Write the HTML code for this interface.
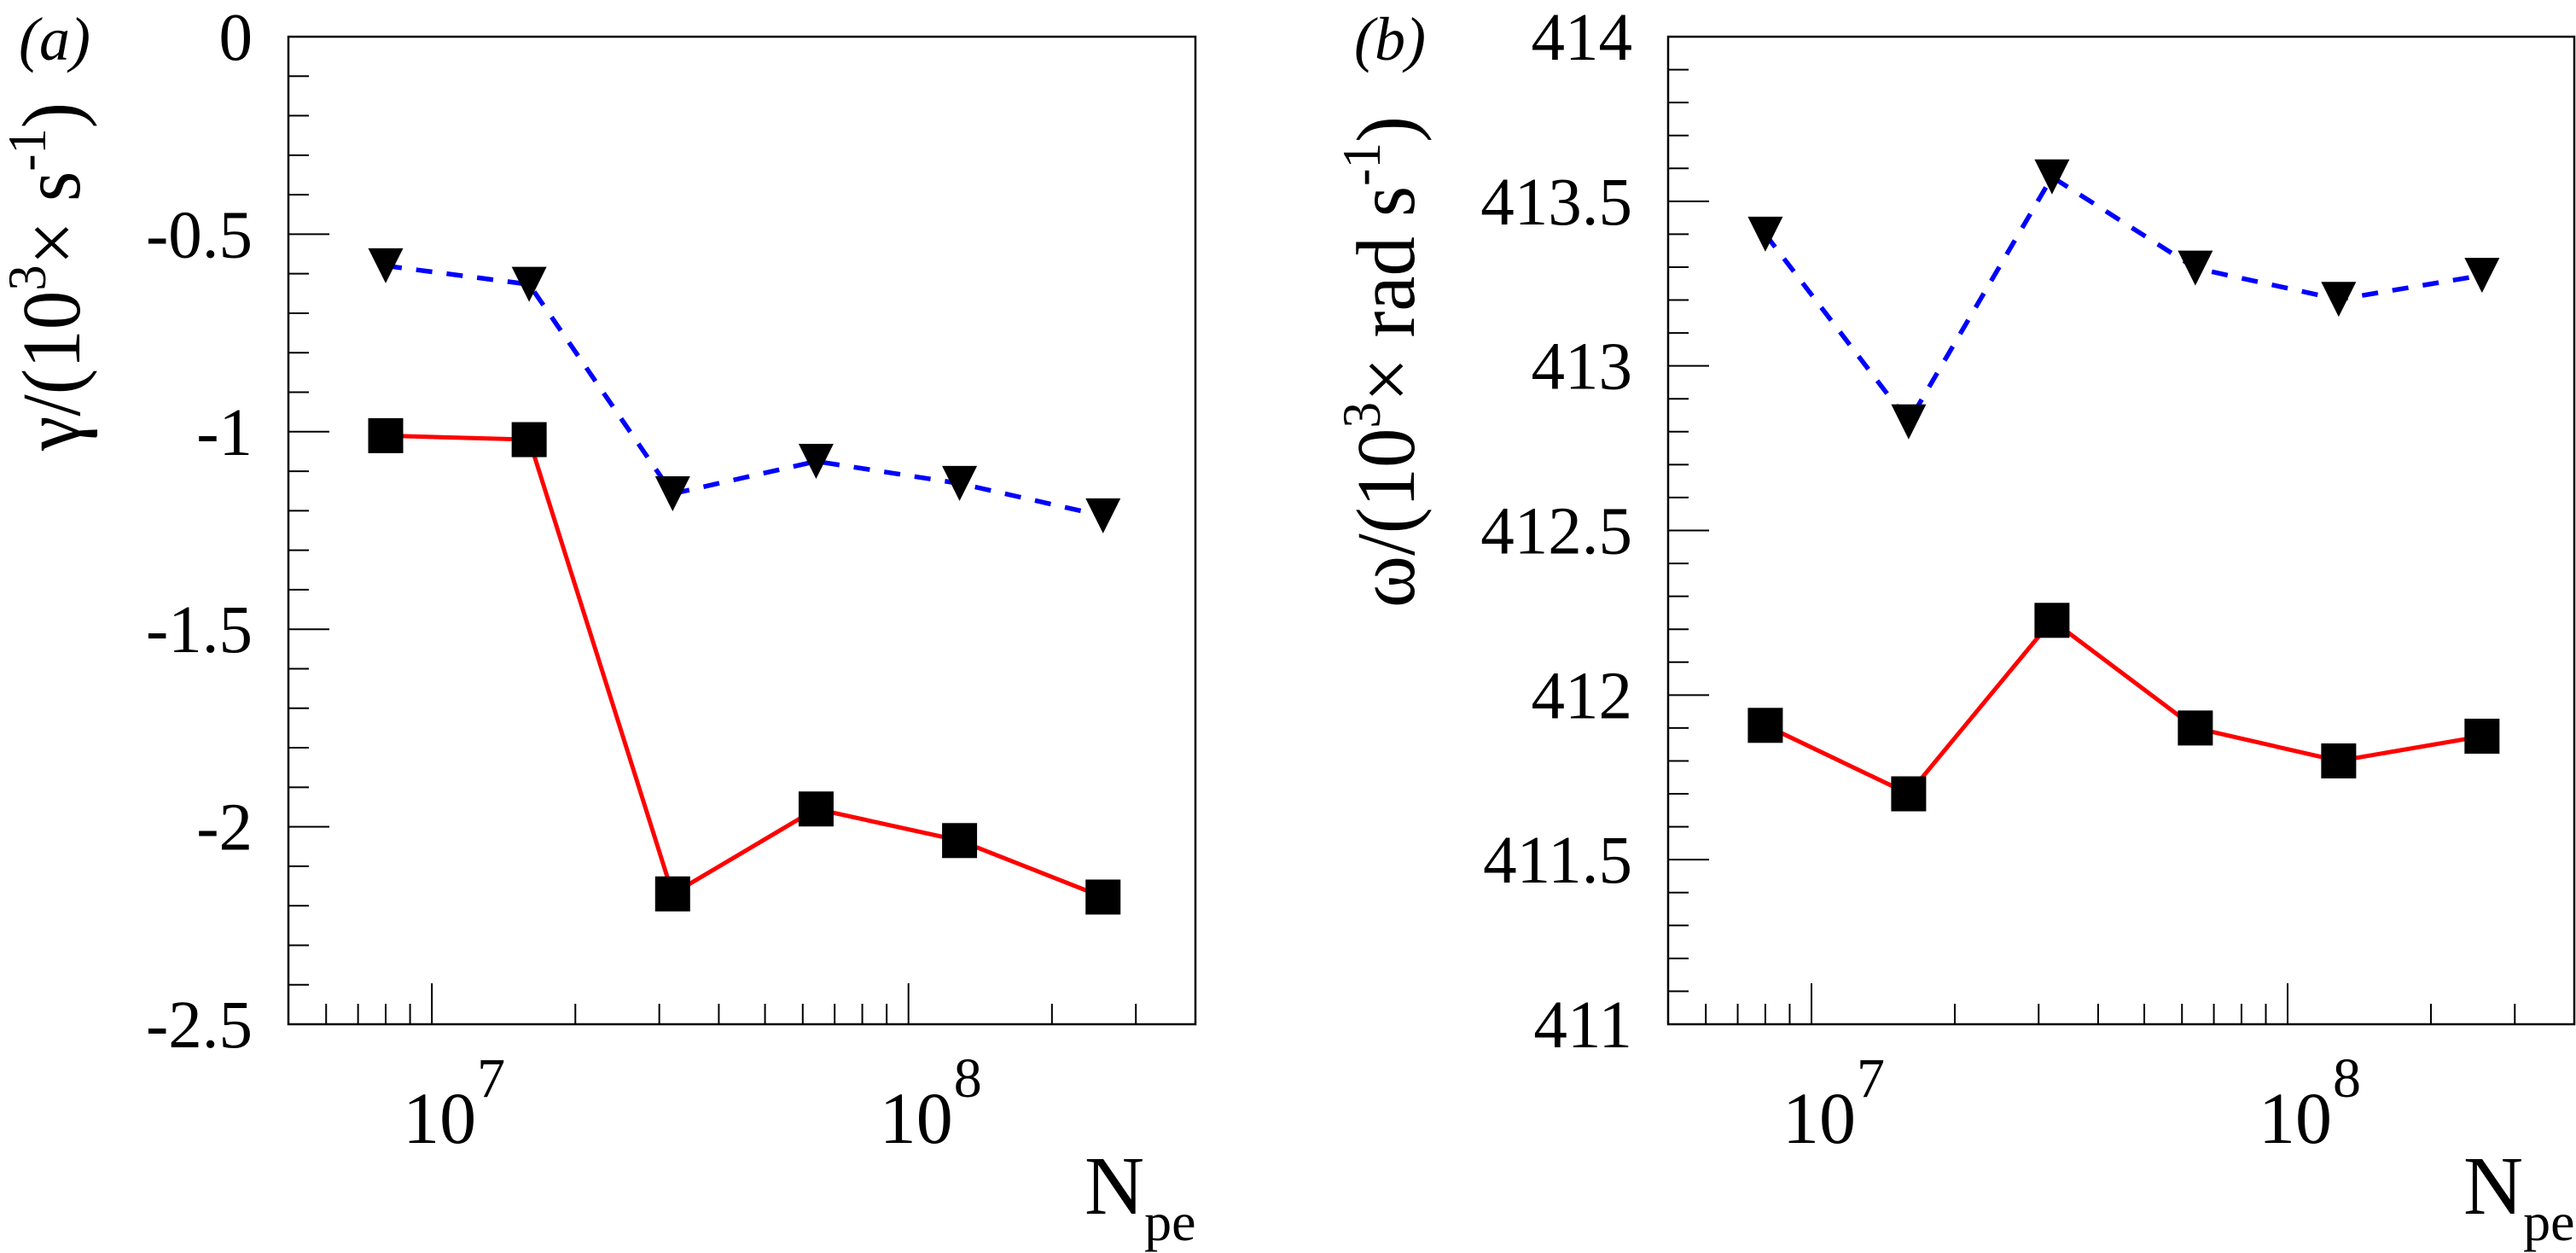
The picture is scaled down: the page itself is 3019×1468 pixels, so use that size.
<!DOCTYPE html>
<html><head><meta charset="utf-8">
<style>
html,body{margin:0;padding:0;background:#fff;}
svg{display:block;font-family:"Liberation Serif","Noto Serif CJK SC","Times New Roman",serif;}
svg text, svg tspan{font-family:"Liberation Serif","Noto Serif CJK SC","Times New Roman",serif;}
</style></head>
<body>
<svg id="chart" width="3019" height="1468" viewBox="0 0 3019 1468" xmlns="http://www.w3.org/2000/svg">
</svg>
<script>
// shared x categories (N_pe)
const nPe = [8e6, 1.6e7, 3.2e7, 6.4e7, 1.28e8, 2.56e8];
// panel (a): growth rate gamma
const gammaSolid = [-1.01, -1.02, -2.17, -1.955, -2.035, -2.178];
const gammaDashed = [-0.58, -0.627, -1.157, -1.075, -1.131, -1.213];
const gammaTicks = ["0", "-0.5", "-1", "-1.5", "-2", "-2.5"];
const gammaTickVals = [0, -0.5, -1, -1.5, -2, -2.5];
// panel (b): frequency omega
const omegaSolid = [411.908, 411.70, 412.227, 411.90, 411.80, 411.875];
const omegaDashed = [413.40, 412.83, 413.574, 413.297, 413.202, 413.275];
const omegaTicks = ["414", "413.5", "413", "412.5", "412", "411.5", "411"];
const omegaTickVals = [414, 413.5, 413, 412.5, 412, 411.5, 411];
const xDecades = [7, 8];

const NS = "http://www.w3.org/2000/svg";
const svg = document.getElementById("chart");
function mk(tag, attrs, parent) {
  const e = document.createElementNS(NS, tag);
  for (const k in attrs) e.setAttribute(k, attrs[k]);
  (parent || svg).appendChild(e);
  return e;
}

function panel(cfg) {
  const g = mk("g", {});
  
  
  const L = cfg.left, R = cfg.right, T = 43, B = 1200;
  const lxMin = Math.log10(5e6), lxMax = Math.log10(4e8);
  const X = v => L + (Math.log10(v) - lxMin) / (lxMax - lxMin) * (R - L);
  const Y = v => T + (cfg.yMax - v) / (cfg.yMax - cfg.yMin) * (B - T);

  const fr = mk("rect", {x: L, y: T, width: R - L, height: B - T, fill: "none", stroke: "#000", "stroke-width": 2.5}, g);
  
  

  const yAxis = mk("g", {}, g);
  
  
  const nMin = Math.round((cfg.yMax - cfg.yMin) / 0.1);
  for (let i = 1; i < nMin; i++) {
    const v = cfg.yMax - i * 0.1;
    const major = i % 5 === 0;
    mk("line", {x1: L, x2: L + (major ? 48 : 24), y1: Y(v), y2: Y(v), stroke: "#000", "stroke-width": 2}, yAxis);
  }
  cfg.tickVals.forEach((v, i) => {
    const t = mk("text", {x: cfg.labelRight, y: Y(v) + 27, "text-anchor": "end", "font-size": 79}, yAxis);
    t.textContent = cfg.ticks[i];
    
    
  });

  const xAxis = mk("g", {}, g);
  
  
  for (let d = 6; d <= 8; d++) {
    for (let m = 1; m <= 9; m++) {
      const v = m * Math.pow(10, d);
      const x = X(v);
      if (x <= L + 1 || x >= R - 1) continue;
      mk("line", {x1: x, x2: x, y1: B, y2: B - (m === 1 ? 48 : 24), stroke: "#000", "stroke-width": 2}, xAxis);
    }
  }
  xDecades.forEach(d => {
    const x = X(Math.pow(10, d));
    const t = mk("text", {x: x - 34, y: 1339, "font-size": 86}, xAxis);
    
    
    t.textContent = "10";
    const s = mk("tspan", {x: x + 53, y: 1285, "font-size": 66}, t);
    s.textContent = String(d);
  });
  const xt = mk("text", {x: R - 130, y: 1422, "font-size": 97}, g);
  
  
  xt.textContent = "N";
  const sub = mk("tspan", {dx: 0, y: 1453, "font-size": 64}, xt);
  sub.textContent = "pe";

  const yt = mk("text", {transform: `translate(${cfg.titleX},${cfg.titleBottom}) rotate(-90)`, x: 0, y: 0, "font-size": 97, textLength: cfg.titleLen, lengthAdjust: "spacingAndGlyphs"}, g);
  
  
  cfg.title(yt);

  const pl = mk("text", {x: cfg.letterX, y: 70, "font-size": 72, "font-style": "italic"}, g);
  
  
  pl.textContent = cfg.letter;

  const solidPts = nPe.map((n, i) => X(n) + "," + Y(cfg.solid[i])).join(" ");
  const dashPts = nPe.map((n, i) => X(n) + "," + Y(cfg.dashed[i])).join(" ");
  const sl = mk("polyline", {points: solidPts, fill: "none", stroke: "#ff0000", "stroke-width": 5}, g);
  
  
  const dl = mk("polyline", {points: dashPts, fill: "none", stroke: "#0000ff", "stroke-width": 5.5, "stroke-dasharray": "19 17"}, g);
  
  

  nPe.forEach((n, i) => {
    const x = X(n), ys = Y(cfg.solid[i]), yd = Y(cfg.dashed[i]);
    const sq = mk("rect", {x: x - 20.5, y: ys - 20.5, width: 41, height: 41, fill: "#000"}, g);
    
    
    const tr = mk("polygon", {points: `${x - 20.5},${yd - 20.5} ${x + 20.5},${yd - 20.5} ${x},${yd + 20.5}`, fill: "#000"}, g);
    
    
  });
}

function sup(parent, txt, up) {
  const s = mk("tspan", {"font-size": 64, dy: up ? -40 : 40}, parent);
  s.textContent = txt;
}
function plain(parent, txt, dy) {
  const s = mk("tspan", {dy: dy || 0}, parent);
  s.textContent = txt;
}

panel({
  name: "panel-a", left: 338, right: 1401, yMax: 0, yMin: -2.5,
  ticks: gammaTicks, tickVals: gammaTickVals, labelRight: 296,
  solid: gammaSolid, dashed: gammaDashed,
  titleX: 93, titleBottom: 528, titleLen: 408,
  letter: "(a)", letterX: 22,
  title: t => { plain(t, "γ/(10"); sup(t, "3", true); plain(t, "× s", 40); sup(t, "-1", true); plain(t, ")", 40); }
});
panel({
  name: "panel-b", left: 1955, right: 3017, yMax: 414, yMin: 411,
  ticks: omegaTicks, tickVals: omegaTickVals, labelRight: 1913,
  solid: omegaSolid, dashed: omegaDashed,
  titleX: 1657, titleBottom: 712, titleLen: 576,
  letter: "(b)", letterX: 1587,
  title: t => { plain(t, "ω/(10"); sup(t, "3", true); plain(t, "× rad s", 40); sup(t, "-1", true); plain(t, ")", 40); }
});
</script>
</body></html>
